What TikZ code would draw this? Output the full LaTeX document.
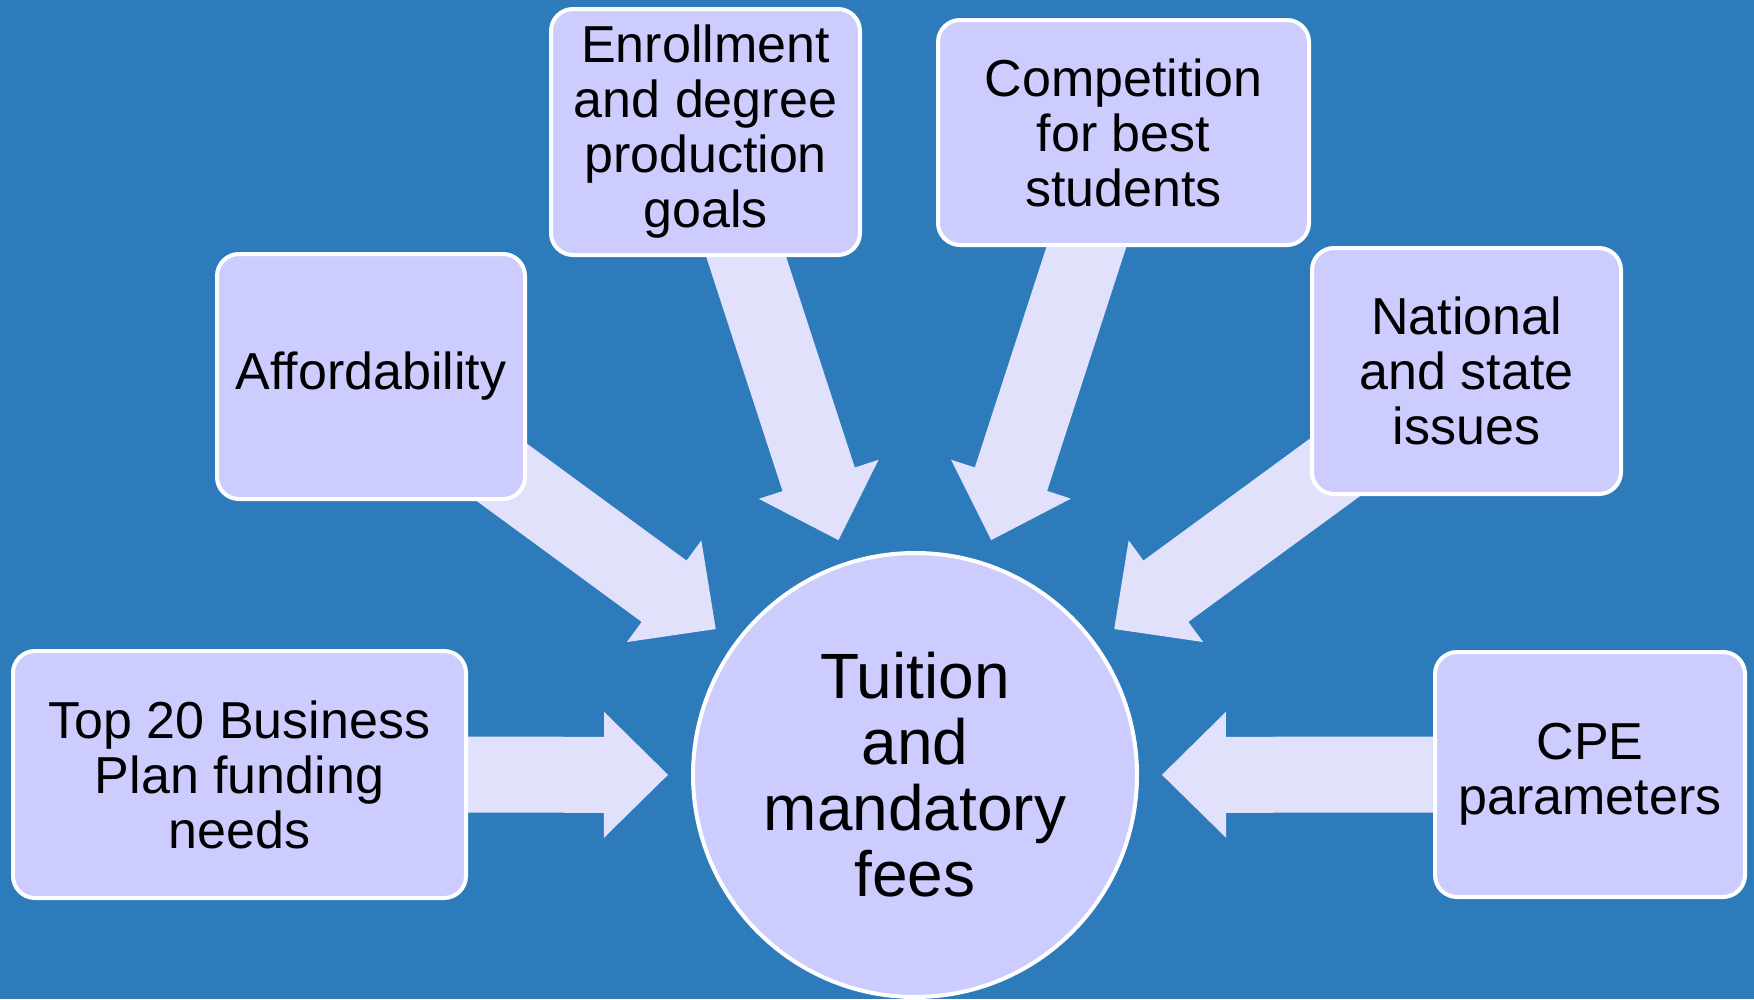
\documentclass[tikz,border=0pt]{standalone}
\usepackage{fontspec}
\setmainfont{Liberation Sans}
\usetikzlibrary{calc}
\definecolor{bgblue}{RGB}{46,123,187}
\definecolor{boxfill}{RGB}{204,204,255}
\definecolor{arrowfill}{RGB}{225,225,251}
\pgfdeclarelayer{back}
\pgfsetlayers{back,main}
\tikzset{
  factor/.style={rectangle, rounded corners=22pt, fill=boxfill, draw=white, line width=4pt,
    align=center, inner sep=0pt, font=\fontsize{52}{55}\selectfont},
  hubnode/.style={circle, fill=boxfill, draw=white, line width=4pt, align=center,
    inner sep=0pt, minimum size=444pt, font=\fontsize{64}{66}\selectfont},
  blockarrow/.style={fill=arrowfill},
}
\newcommand\radialarrow[1]{%
  \coordinate (ba-t) at ($(hub.center)!247pt!(#1.center)$);
  \coordinate (ba-p) at ($(ba-t)!64pt!(#1.center)$);
  \fill[blockarrow] ($(#1.center)!38pt!90:(ba-t)$) -- ($(ba-p)!38pt!90:(ba-t)$)
    -- ($(ba-p)!63pt!90:(ba-t)$) -- (ba-t) -- ($(ba-p)!63pt!-90:(ba-t)$)
    -- ($(ba-p)!38pt!-90:(ba-t)$) -- ($(#1.center)!38pt!-90:(ba-t)$) -- cycle;
}
\begin{document}
\begin{tikzpicture}[x=1pt,y=-1pt]
\useasboundingbox (0,0) rectangle (1754,999);
\node[hubnode] (hub) at (915,775) {Tuition\\and\\mandatory\\fees};
\node[factor, minimum width=453pt, minimum height=247pt] (top20) at (239.5,774.5) {Top 20 Business\\Plan funding\\needs};
\node[factor, minimum width=308pt, minimum height=245pt] (aff) at (371,376.5) {Affordability};
\node[factor, minimum width=309pt, minimum height=246pt] (enr) at (705.5,132) {Enrollment\\and degree\\production\\goals};
\node[factor, minimum width=371pt, minimum height=225pt] (comp) at (1123.5,132.5) {Competition\\for best\\students};
\node[factor, minimum width=309pt, minimum height=246pt] (nat) at (1466.5,371) {National\\and state\\issues};
\node[factor, minimum width=310pt, minimum height=245pt] (cpe) at (1590,774.5) {CPE\\parameters};
\begin{pgfonlayer}{back}
\fill[bgblue] (0,0) rectangle (1754,999);
\radialarrow{top20}
\radialarrow{aff}
\radialarrow{enr}
\radialarrow{comp}
\radialarrow{nat}
\radialarrow{cpe}
\end{pgfonlayer}
\end{tikzpicture}
\end{document}
